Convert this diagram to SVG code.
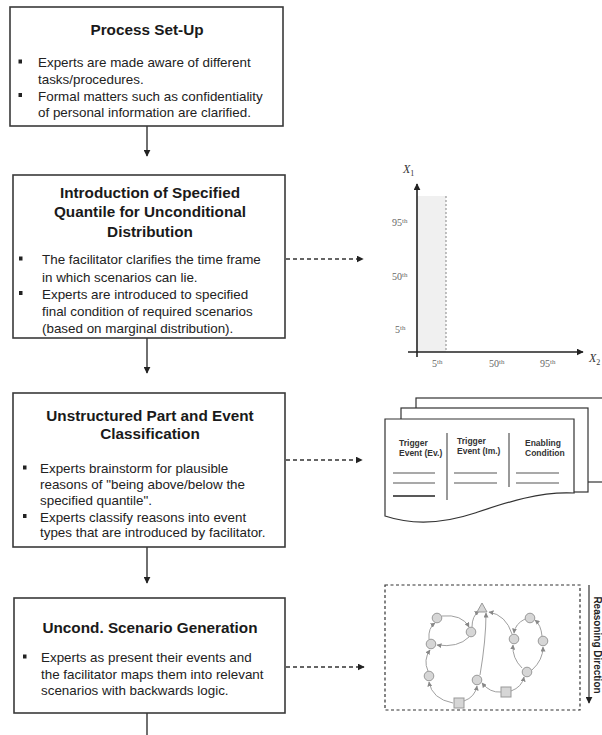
<svg xmlns="http://www.w3.org/2000/svg" width="602" height="735" viewBox="0 0 602 735">
<defs>
<style>
.box{fill:#fff;stroke:#3a3a3a;stroke-width:1.6}
.title{font-family:"Liberation Sans",Arial,sans-serif;font-weight:bold;font-size:15.3px;fill:#1a1a1a;text-anchor:middle}
.body{font-family:"Liberation Sans",Arial,sans-serif;font-size:13.4px;fill:#222}
.bul{fill:#222}
.flow{stroke:#333;stroke-width:1.4;fill:none}
.dash{stroke:#333;stroke-width:1.4;fill:none;stroke-dasharray:4,3}
.ax{stroke:#222;stroke-width:1.6;fill:none}
.lab{font-family:"Liberation Serif","Times New Roman",serif;font-size:10px;fill:#666}
.doc{fill:#fff;stroke:#333;stroke-width:1.2}
.dt{font-family:"Liberation Sans",Arial,sans-serif;font-weight:bold;font-size:8.5px;fill:#333}
.dl{stroke:#555;stroke-width:1.2}
.node{fill:#d6d6d6;stroke:#999;stroke-width:1}
.edge{stroke:#a0a0a0;stroke-width:1;fill:none;marker-end:url(#sm)}
</style>
<marker id="ah" viewBox="0 0 10 10" refX="9" refY="5" markerWidth="7" markerHeight="7" markerUnits="userSpaceOnUse" orient="auto"><path d="M0,0 L10,5 L0,10 z" fill="#222"/></marker>
<marker id="sm" viewBox="0 0 10 10" refX="9" refY="5" markerWidth="5" markerHeight="5" markerUnits="userSpaceOnUse" orient="auto"><path d="M0,0 L10,5 L0,10 z" fill="#888"/></marker>
</defs>
<rect width="602" height="735" fill="#fff"/>

<g id="connectors">
<line class="flow" x1="147" y1="126" x2="147" y2="156" marker-end="url(#ah)"/>
<line class="flow" x1="147" y1="338" x2="147" y2="373" marker-end="url(#ah)"/>
<line class="flow" x1="147" y1="547" x2="147" y2="583" marker-end="url(#ah)"/>
<line class="flow" x1="147" y1="713" x2="147" y2="735"/>
<line class="dash" x1="286" y1="259" x2="363" y2="259" marker-end="url(#ah)"/>
<line class="dash" x1="286" y1="460" x2="362" y2="460" marker-end="url(#ah)"/>
<line class="dash" x1="286" y1="667" x2="364" y2="667" marker-end="url(#ah)"/>
</g>

<g id="node-setup">
<rect class="box" x="10" y="7" width="273" height="119"/>
<text class="title" x="147" y="34.5">Process Set-Up</text>
<rect class="bul" x="18.5" y="59.5" width="3.5" height="4"/>
<text class="body" x="38" y="67">Experts are made aware of different</text>
<text class="body" x="38" y="83.5">tasks/procedures.</text>
<rect class="bul" x="18.5" y="93" width="3.5" height="4"/>
<text class="body" x="38" y="100.5">Formal matters such as confidentiality</text>
<text class="body" x="38" y="117">of personal information are clarified.</text>
</g>

<g id="node-quantile">
<rect class="box" x="13" y="175" width="272" height="163"/>
<text class="title" x="150" y="197.5">Introduction of Specified</text>
<text class="title" x="150" y="217">Quantile for Unconditional</text>
<text class="title" x="150" y="236.5">Distribution</text>
<rect class="bul" x="19" y="256.5" width="3.5" height="4"/>
<text class="body" x="42" y="264">The facilitator clarifies the time frame</text>
<text class="body" x="42" y="281.5">in which scenarios can lie.</text>
<rect class="bul" x="19" y="291" width="3.5" height="4"/>
<text class="body" x="42" y="298.5">Experts are introduced to specified</text>
<text class="body" x="42" y="316">final condition of required scenarios</text>
<text class="body" x="42" y="333">(based on marginal distribution).</text>
</g>

<g id="node-classification">
<rect class="box" x="13" y="393" width="272" height="154"/>
<text class="title" x="150" y="420.5">Unstructured Part and Event</text>
<text class="title" x="150" y="439">Classification</text>
<rect class="bul" x="23" y="465.5" width="3.5" height="4"/>
<text class="body" x="40" y="473">Experts brainstorm for plausible</text>
<text class="body" x="40" y="489">reasons of "being above/below the</text>
<text class="body" x="40" y="505">specified quantile".</text>
<rect class="bul" x="23" y="514" width="3.5" height="4"/>
<text class="body" x="40" y="521.5">Experts classify reasons into event</text>
<text class="body" x="40" y="537">types that are introduced by facilitator.</text>
</g>

<g id="node-generation">
<rect class="box" x="14" y="598" width="271" height="115"/>
<text class="title" x="150" y="632.5">Uncond. Scenario Generation</text>
<rect class="bul" x="23" y="654.5" width="3.5" height="4"/>
<text class="body" x="41" y="662">Experts as present their events and</text>
<text class="body" x="41" y="678.5">the facilitator maps them into relevant</text>
<text class="body" x="41" y="695">scenarios with backwards logic.</text>
</g>

<g id="chart">
<rect x="418" y="196" width="28" height="156" fill="#f0f0f0"/>
<line x1="446" y1="196" x2="446" y2="352" stroke="#999" stroke-width="1.2" stroke-dasharray="2,2"/>
<line class="ax" x1="417" y1="357" x2="417" y2="184" marker-end="url(#ah)"/>
<line class="ax" x1="408" y1="352" x2="583" y2="352" marker-end="url(#ah)"/>
<text x="403" y="173" font-family="Liberation Serif,serif" font-style="italic" font-size="12" fill="#333">X<tspan font-size="8" font-style="normal" dy="3">1</tspan></text>
<text x="589" y="362" font-family="Liberation Serif,serif" font-style="italic" font-size="12" fill="#333">X<tspan font-size="8" font-style="normal" dy="3">2</tspan></text>
<text class="lab" x="392" y="226">95<tspan font-size="7" dy="-3.5">th</tspan></text>
<text class="lab" x="392" y="280">50<tspan font-size="7" dy="-3.5">th</tspan></text>
<text class="lab" x="395" y="333">5<tspan font-size="7" dy="-3.5">th</tspan></text>
<text class="lab" x="432" y="367">5<tspan font-size="7" dy="-3.5">th</tspan></text>
<text class="lab" x="489" y="367">50<tspan font-size="7" dy="-3.5">th</tspan></text>
<text class="lab" x="540" y="367">95<tspan font-size="7" dy="-3.5">th</tspan></text>
</g>

<g id="documents">
<rect class="doc" x="416" y="398" width="200" height="84"/>
<rect class="doc" x="401" y="408" width="187" height="84"/>
<path class="doc" d="M385,419 H574 V493 C540,491 505,503 475,513 C445,523 415,526 385,516 Z"/>
<line class="dl" x1="447" y1="433" x2="447" y2="500"/>
<line class="dl" x1="509" y1="433" x2="509" y2="487"/>
<text class="dt" x="399" y="446">Trigger</text>
<text class="dt" x="399" y="456">Event (Ev.)</text>
<text class="dt" x="457" y="444">Trigger</text>
<text class="dt" x="457" y="454">Event (Im.)</text>
<text class="dt" x="525" y="446">Enabling</text>
<text class="dt" x="525" y="456">Condition</text>
<line class="dl" x1="393" y1="473" x2="435" y2="473"/>
<line class="dl" x1="393" y1="483" x2="435" y2="483"/>
<line x1="393" y1="496" x2="435" y2="496" stroke="#222" stroke-width="1.3"/>
<line class="dl" x1="454" y1="473" x2="497" y2="473"/>
<line class="dl" x1="454" y1="483" x2="497" y2="483"/>
<line class="dl" x1="516" y1="473" x2="559" y2="473"/>
<line class="dl" x1="516" y1="483" x2="559" y2="483"/>
</g>

<g id="scenario-graph">
<rect x="385" y="585" width="195" height="125" fill="none" stroke="#333" stroke-width="1.2" stroke-dasharray="3,2.5"/>
<line x1="589" y1="585" x2="589" y2="703" stroke="#333" stroke-width="1.2" marker-end="url(#ah)"/>
<text transform="translate(594,645) rotate(90)" text-anchor="middle" font-family="Liberation Sans,Arial,sans-serif" font-weight="bold" font-size="10" fill="#222">Reasoning Direction</text>
<g id="graph-edges">
<path class="edge" d="M453,703 Q432,699 429,682"/>
<path class="edge" d="M428,671 Q423,660 430,650"/>
<path class="edge" d="M429,639 Q428,628 435,623"/>
<path class="edge" d="M442,616 Q462,614 469,627"/>
<path class="edge" d="M469,637 Q458,648 437,645"/>
<path class="edge" d="M472,627 Q472,616 479,611"/>
<path class="edge" d="M464,701 Q475,697 477,686"/>
<path class="edge" d="M480,675 Q486,640 486,613"/>
<path class="edge" d="M501,692 Q490,693 482,683"/>
<path class="edge" d="M511,691 Q522,687 524,677"/>
<path class="edge" d="M522,668 Q512,658 513,645"/>
<path class="edge" d="M532,670 Q543,660 543,647"/>
<path class="edge" d="M542,636 Q541,625 535,620"/>
<path class="edge" d="M525,619 Q515,624 514,633"/>
<path class="edge" d="M512,634 Q506,615 489,612"/>
</g>
<g id="graph-nodes">
<circle class="node" cx="437" cy="618" r="4.8"/>
<circle class="node" cx="471" cy="632" r="4.8"/>
<path class="node" d="M482,603 L487,612 L477,612 Z"/>
<circle class="node" cx="431" cy="644" r="4.8"/>
<circle class="node" cx="429" cy="676" r="4.8"/>
<rect class="node" x="454" y="698" width="10" height="10"/>
<circle class="node" cx="477" cy="680" r="4.8"/>
<rect class="node" x="501" y="687" width="10" height="10"/>
<circle class="node" cx="514" cy="639" r="4.8"/>
<circle class="node" cx="530" cy="618" r="4.8"/>
<circle class="node" cx="543" cy="641" r="4.8"/>
<circle class="node" cx="527" cy="672" r="4.8"/>
</g>
</g>
</svg>
